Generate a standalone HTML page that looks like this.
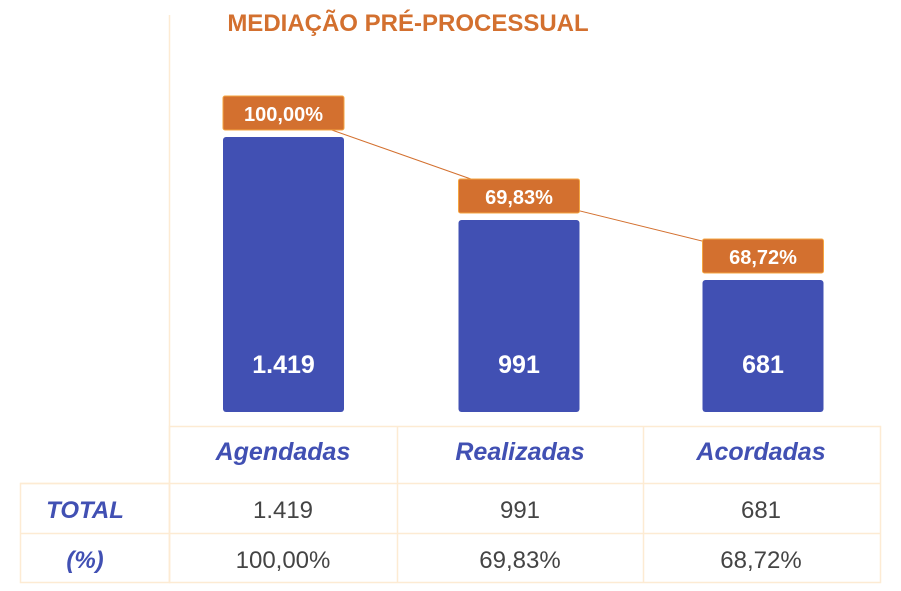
<!DOCTYPE html>
<html><head><meta charset="utf-8"><style>
body{margin:0;width:901px;height:591px;background:#fff;overflow:hidden;font-family:"Liberation Sans",sans-serif}
svg{display:block}
</style></head><body>
<svg id="chart" width="901" height="591">
<text x="408" y="31" text-anchor="middle" font-size="24" font-weight="bold" fill="#d3702f">MEDIAÇÃO PRÉ-PROCESSUAL</text>
<line x1="169.5" y1="15" x2="169.5" y2="583" stroke="#fdebd3" stroke-width="1.5"/>
<g id="table">
<rect x="169.5" y="426.5" width="711" height="156" fill="none" stroke="#fdebd3" stroke-width="1.5"/>
<rect x="20.5" y="483.5" width="149" height="99" fill="none" stroke="#fdebd3" stroke-width="1.5"/>
<line x1="20" y1="533.5" x2="880" y2="533.5" stroke="#fdebd3" stroke-width="1.5"/>
<line x1="20" y1="483.5" x2="880" y2="483.5" stroke="#fdebd3" stroke-width="1.5"/>
<line x1="397.5" y1="426" x2="397.5" y2="583" stroke="#fdebd3" stroke-width="1.5"/>
<line x1="643.5" y1="426" x2="643.5" y2="583" stroke="#fdebd3" stroke-width="1.5"/>
<text x="85" y="518" text-anchor="middle" font-size="24" font-weight="bold" font-style="italic" fill="#4150b3">TOTAL</text>
<text x="85" y="568" text-anchor="middle" font-size="24" font-weight="bold" font-style="italic" fill="#4150b3">(%)</text>
</g>
</svg>
<script>
const categories=["Agendadas","Realizadas","Acordadas"];
const totals=[1419,991,681];
const totalLabels=["1.419","991","681"];
const pctLabels=["100,00%","69,83%","68,72%"];
const NS="http://www.w3.org/2000/svg";
const svg=document.getElementById('chart');
const baseY=412, maxH=275, maxV=1419;
const barW=121;
const colX=[283.5,519,763];
const cellX=[283,520,761];
function yScale(v){return baseY-v/maxV*maxH;}
function mk(tag,attrs,parent){const e=document.createElementNS(NS,tag);for(const k in attrs)e.setAttribute(k,attrs[k]);(parent||svg).appendChild(e);return e;}
// connector line
const pts=totals.map((v,i)=>colX[i]+","+(yScale(v)-24)).join(" ");
const pl=mk('polyline',{points:pts,fill:'none',stroke:'#d3702f','stroke-width':1});


totals.forEach((v,i)=>{
 const top=yScale(v);
 const b=mk('rect',{x:colX[i]-barW/2,y:top,width:barW,height:baseY-top,rx:3,fill:'#4150b3'});
 
 
 const bl=mk('text',{x:colX[i],y:373,'text-anchor':'middle','font-size':25,'font-weight':'bold',fill:'#fff'});
 bl.textContent=totalLabels[i];
 
 
 const lb=mk('rect',{x:colX[i]-barW/2,y:top-41,width:barW,height:34,rx:2,fill:'#d3702f',stroke:'#f5a540','stroke-width':1});
 
 
 const lt=mk('text',{x:colX[i],y:top-16,'text-anchor':'middle','font-size':20,'font-weight':'bold',fill:'#fff'});
 lt.textContent=pctLabels[i];
 
 
 const h=mk('text',{x:cellX[i],y:460,'text-anchor':'middle','font-size':25,'font-weight':'bold','font-style':'italic',fill:'#4150b3'});
 h.textContent=categories[i];
 
 
 const t=mk('text',{x:cellX[i],y:518,'text-anchor':'middle','font-size':24,fill:'#444'});
 t.textContent=totalLabels[i];
 
 
 const p=mk('text',{x:cellX[i],y:568,'text-anchor':'middle','font-size':24,fill:'#444'});
 p.textContent=pctLabels[i];
 
 
});
</script>
</body></html>
